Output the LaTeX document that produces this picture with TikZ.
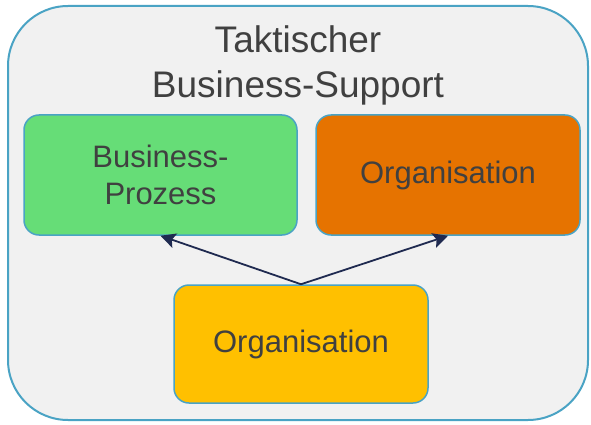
\documentclass[tikz,border=0pt]{standalone}
\usepackage{fontspec}
\setmainfont{Liberation Sans}
\usetikzlibrary{arrows.meta}
\definecolor{rahmen}{HTML}{4AA3C4}
\definecolor{hgrund}{HTML}{F1F1F1}
\definecolor{gruen}{HTML}{66DD77}
\definecolor{orange}{HTML}{E67300}
\definecolor{gelb}{HTML}{FFC000}
\definecolor{schrift}{HTML}{404040}
\definecolor{pfeil}{HTML}{1F2A50}
\tikzset{every node/.style={text=schrift, inner sep=0pt}}
\tikzset{kasten/.style={draw=rahmen, line width=1.5pt, rounded corners=15pt, align=center,
  font=\fontsize{31}{37}\selectfont}}
\tikzset{verbindung/.style={draw=pfeil, line width=1.8pt,
  -{Stealth[length=15pt, width=15pt, inset=3pt]}}}

\begin{document}
\begin{tikzpicture}[x=1pt, y=-1pt]
  \useasboundingbox (0,0) rectangle (591,425);
  \node (rahmen) [draw=rahmen, fill=hgrund, line width=2pt, rounded corners=60pt,
    minimum width=580pt, minimum height=414pt] at (298,213) {};
  \node (titel) [align=center, font=\fontsize{37}{45}\selectfont] at (298,65)
    {Taktischer\\Business-Support};

  \node (prozess) [kasten, fill=gruen, minimum width=273pt, minimum height=120pt]
    at (160.5,175) {Business-\\Prozess};
  \node (orgoben) [kasten, fill=orange, minimum width=264pt, minimum height=120pt]
    at (448,175) {Organisation};
  \node (orgunten) [kasten, fill=gelb, minimum width=254pt, minimum height=118pt]
    at (301,344) {Organisation};

  \path [verbindung] (orgunten.north) -- (prozess.south);
  \path [verbindung] (orgunten.north) -- (orgoben.south);
\end{tikzpicture}
\end{document}
